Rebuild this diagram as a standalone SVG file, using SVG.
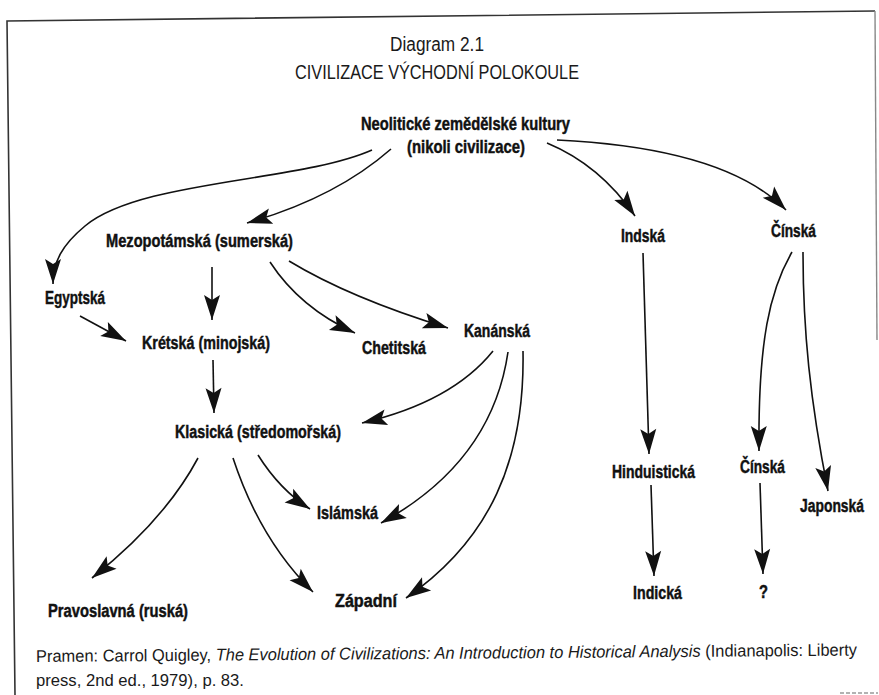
<svg xmlns="http://www.w3.org/2000/svg" width="879" height="695" viewBox="0 0 879 695">
<defs>
<style>
.lbl{font-family:"Liberation Sans",Arial,sans-serif;font-weight:bold;font-size:17.5px;fill:#111;stroke:#111;stroke-width:0.45}
.ttl{font-family:"Liberation Sans",Arial,sans-serif;font-size:19.5px;fill:#1a1a1a}
.cap{font-family:"Liberation Sans",Arial,sans-serif;font-size:17px;fill:#1a1a1a}
.edge{fill:none;stroke:#111;stroke-width:1.6;marker-end:url(#ah)}
.frame{fill:none;stroke:#333;stroke-width:1.6}
</style>
<marker id="ah" markerUnits="userSpaceOnUse" markerWidth="28" markerHeight="20" viewBox="-26 -10 28 20" refX="0" refY="0" orient="auto">
<path d="M0,0 L-25,-8 L-20,0 L-25,8 Z" fill="#111"/>
</marker>
</defs>
<rect width="879" height="695" fill="#fff"/>
<g id="frame">
<path class="frame" d="M15,695 L7,21 L875,11"/>
<path d="M875,11 L877,340" fill="none" stroke="#888" stroke-width="1.4"/>
<path d="M840,693 L878,693" stroke="#999" stroke-width="1.5" stroke-dasharray="4,2"/>
</g>
<g id="title">
<text class="ttl" x="437" y="51" text-anchor="middle" textLength="94" lengthAdjust="spacingAndGlyphs">Diagram 2.1</text>
<text class="ttl" x="437" y="79" text-anchor="middle" textLength="284" lengthAdjust="spacingAndGlyphs">CIVILIZACE VÝCHODNÍ POLOKOULE</text>
</g>
<g id="connectors">
<path class="edge" d="M372,150 C300,182 140,180 85,226 C62,245 53,262 53,284"/>
<path class="edge" d="M391,149 Q335,198 247,223"/>
<path class="edge" d="M547,143 Q600,165 635,216"/>
<path class="edge" d="M557,140 Q725,148 786,210"/>
<path class="edge" d="M80,316 L126,341"/>
<path class="edge" d="M212,267 L212,320"/>
<path class="edge" d="M213,360 L214,413"/>
<path class="edge" d="M270,262 Q300,308 355,333"/>
<path class="edge" d="M289,261 Q350,298 448,328"/>
<path class="edge" d="M493,351 Q452,402 362,423"/>
<path class="edge" d="M508,352 Q492,462 381,523"/>
<path class="edge" d="M523,351 C525,460 490,540 406,598"/>
<path class="edge" d="M198,458 Q165,520 92,578"/>
<path class="edge" d="M233,458 Q260,540 313,592"/>
<path class="edge" d="M258,455 Q280,490 310,509"/>
<path class="edge" d="M643,253 L649,454"/>
<path class="edge" d="M651,485 L654,576"/>
<path class="edge" d="M792,252 C770,290 758,340 759,451"/>
<path class="edge" d="M803,252 C803,330 810,400 828,491"/>
<path class="edge" d="M760,483 L763,574"/>
</g>
<g id="n-neolit">
<text class="lbl" x="361" y="130" textLength="209" lengthAdjust="spacingAndGlyphs">Neolitické zemědělské kultury</text>
<text class="lbl" x="407" y="153" textLength="118" lengthAdjust="spacingAndGlyphs">(nikoli civilizace)</text>
</g>
<g id="n-mezo"><text class="lbl" x="106" y="247" textLength="187" lengthAdjust="spacingAndGlyphs">Mezopotámská (sumerská)</text></g>
<g id="n-indska"><text class="lbl" x="621" y="242" textLength="44" lengthAdjust="spacingAndGlyphs">Indská</text></g>
<g id="n-cinska1"><text class="lbl" x="771" y="237" textLength="45" lengthAdjust="spacingAndGlyphs">Čínská</text></g>
<g id="n-egypt"><text class="lbl" x="45" y="304" textLength="60" lengthAdjust="spacingAndGlyphs">Egyptská</text></g>
<g id="n-kreta"><text class="lbl" x="142" y="349" textLength="128" lengthAdjust="spacingAndGlyphs">Krétská (minojská)</text></g>
<g id="n-chetit"><text class="lbl" x="362" y="354" textLength="64" lengthAdjust="spacingAndGlyphs">Chetitská</text></g>
<g id="n-kanan"><text class="lbl" x="464" y="337" textLength="66" lengthAdjust="spacingAndGlyphs">Kanánská</text></g>
<g id="n-klasicka"><text class="lbl" x="175" y="438" textLength="166" lengthAdjust="spacingAndGlyphs">Klasická (středomořská)</text></g>
<g id="n-hindu"><text class="lbl" x="612" y="478" textLength="83" lengthAdjust="spacingAndGlyphs">Hinduistická</text></g>
<g id="n-cinska2"><text class="lbl" x="740" y="473" textLength="45" lengthAdjust="spacingAndGlyphs">Čínská</text></g>
<g id="n-japon"><text class="lbl" x="800" y="512" textLength="64" lengthAdjust="spacingAndGlyphs">Japonská</text></g>
<g id="n-islam"><text class="lbl" x="317" y="519" textLength="61" lengthAdjust="spacingAndGlyphs">Islámská</text></g>
<g id="n-zapad"><text class="lbl" x="335" y="607" textLength="62" lengthAdjust="spacingAndGlyphs">Západní</text></g>
<g id="n-pravo"><text class="lbl" x="48" y="617" textLength="140" lengthAdjust="spacingAndGlyphs">Pravoslavná (ruská)</text></g>
<g id="n-indicka"><text class="lbl" x="633" y="599" textLength="49" lengthAdjust="spacingAndGlyphs">Indická</text></g>
<g id="n-q"><text class="lbl" x="759" y="598" textLength="9" lengthAdjust="spacingAndGlyphs">?</text></g>
<g id="caption">
<text class="cap" x="36" y="662" textLength="821" lengthAdjust="spacingAndGlyphs" transform="rotate(-0.45 36 662)">Pramen: Carrol Quigley, <tspan font-style="italic">The Evolution of Civilizations: An Introduction to Historical Analysis</tspan> (Indianapolis: Liberty</text>
<text class="cap" x="36" y="686" textLength="208" lengthAdjust="spacingAndGlyphs">press, 2nd ed., 1979), p. 83.</text>
</g>
</svg>
